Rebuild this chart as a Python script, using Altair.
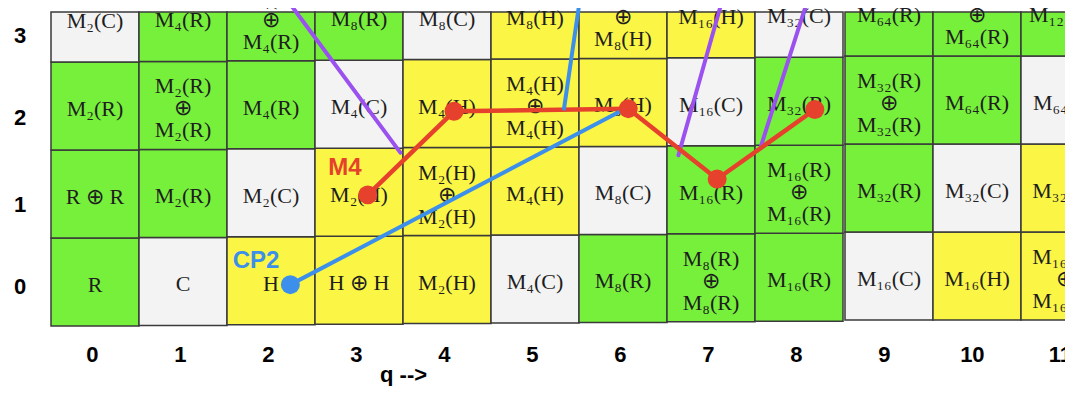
import altair as alt
import pandas as pd

# ------------------------------------------------------------------ data
q_tick_labels = ["0", "1", "2", "3", "4", "5", "6", "7", "8", "9", "10", "11"]
p_tick_labels = ["0", "1", "2", "3"]

row_p0 = ["R", "C", "H", "H⊕H", "M₂(H)", "M₄(C)", "M₈(R)", "M₈(R)⊕M₈(R)",
          "M₁₆(R)", "M₁₆(C)", "M₁₆(H)", "M₁₆(H)⊕M₁₆(H)"]
row_p1 = ["R⊕R", "M₂(R)", "M₂(C)", "M₂(H)", "M₂(H)⊕M₂(H)", "M₄(H)", "M₈(C)",
          "M₁₆(R)", "M₁₆(R)⊕M₁₆(R)", "M₃₂(R)", "M₃₂(C)", "M₃₂(H)"]
row_p2 = ["M₂(R)", "M₂(R)⊕M₂(R)", "M₄(R)", "M₄(C)", "M₄(H)", "M₄(H)⊕M₄(H)",
          "M₈(H)", "M₁₆(C)", "M₃₂(R)", "M₃₂(R)⊕M₃₂(R)", "M₆₄(R)", "M₆₄(C)"]
row_p3 = ["M₂(C)", "M₄(R)", "M₄(R)⊕M₄(R)", "M₈(R)", "M₈(C)", "M₈(H)",
          "M₈(H)⊕M₈(H)", "M₁₆(H)", "M₃₂(C)", "M₆₄(R)", "M₆₄(R)⊕M₆₄(R)", "M₁₂₈(R)"]

# path overlays, in (q, p) table units
red_q = [3.60, 4.58, 6.56, 7.57, 8.68]
red_p = [1.49, 2.44, 2.47, 1.67, 2.46]
blue_q = [2.72, 6.47]
blue_p = [0.47, 2.44]
blue2_q = [5.83, 6.01]
blue2_p = [2.47, 3.71]
purple1_q = [3.97, 2.68]
purple1_p = [1.97, 3.71]
purple2_q = [7.13, 7.63]
purple2_p = [1.94, 3.71]
purple3_q = [8.06, 8.60]
purple3_p = [2.02, 3.71]

label_text = ["M4", "CP2"]
label_q = [3.34, 2.33]
label_p = [1.80, 0.74]

# ------------------------------------------------------------------ layout / style
X0_PX, CW, Y0_PX, RH = 51.0, 88.0, 326.0, 88.0
PLOT_W, PLOT_H = 1057, 378
x_dom = [(8 - X0_PX) / CW, (8 + PLOT_W - X0_PX) / CW]
y_dom = [(Y0_PX - 8 - PLOT_H) / RH, (Y0_PX - 8) / RH]
TOP = (Y0_PX - 12) / RH
LINE_H = 22

GREEN, YELLOW, WHITE = "#77F03C", "#FBF645", "#F3F3F3"
RED, BLUE, PURPLE = "#E6412C", "#3C8FEA", "#9B51F0"

xs = alt.Scale(domain=x_dom, nice=False, zero=False)
ys = alt.Scale(domain=y_dom, nice=False, zero=False)

recs = []
for p, row in enumerate([row_p0, row_p1, row_p2, row_p3]):
    for q, name in enumerate(row):
        if q >= 9:
            dxp, dyp = 2.0, -6.0
        else:
            dxp, dyp = 0.0, -0.6 * q
        x1 = q + dxp / CW
        x2 = q + 1 + dxp / CW
        y1 = p - dyp / RH
        y2 = (p + 1 - dyp / RH) if p < 3 else TOP
        field = next(c for c in name if c in "RCH")
        shift = 0.0
        if "⊕" in name:
            a, b = name.split("⊕")
            if a.startswith("M"):
                lab = f"{a}\n⊕\n{b}"
                shift = LINE_H
            else:
                lab = f"{a} ⊕ {b}"
        else:
            lab = name
        recs.append(dict(x1=x1, x2=x2, y1=y1, y2=y2, field=field, label=lab,
                         tx=q + 0.5 + dxp / CW,
                         ty=p + 0.5 - (dyp + 3 - shift) / RH))
cells = pd.DataFrame(recs)


def X(f):
    return alt.X(f, type="quantitative", scale=xs, axis=None)


def Y(f):
    return alt.Y(f, type="quantitative", scale=ys, axis=None)


rects = alt.Chart(cells).mark_rect(stroke="#3a3a3a", strokeWidth=1.5, clip=True).encode(
    x=X("x1"), x2="x2", y=Y("y1"), y2="y2",
    color=alt.Color("field:N", scale=alt.Scale(domain=["R", "C", "H"],
                                               range=[GREEN, WHITE, YELLOW]), legend=None),
)

texts = alt.Chart(cells).mark_text(
    font="Liberation Serif", fontSize=22, lineBreak="\n", lineHeight=LINE_H,
    baseline="middle", align="center", color="#1e1e1e", clip=True,
).encode(x=X("tx"), y=Y("ty"), text="label:N")


def path_df(qs, ps, name):
    return pd.DataFrame({"q": qs, "p": ps, "o": list(range(len(qs))), "s": name})


def line_layer(df, color, width):
    return alt.Chart(df).mark_line(color=color, strokeWidth=width, clip=True,
                                   strokeCap="round").encode(
        x=X("q"), y=Y("p"), order="o:Q", detail="s:N")


purple_df = pd.concat([path_df(purple1_q, purple1_p, "a"),
                       path_df(purple2_q, purple2_p, "b"),
                       path_df(purple3_q, purple3_p, "c")])
blue_df = pd.concat([path_df(blue_q, blue_p, "a"), path_df(blue2_q, blue2_p, "b")])
red_df = path_df(red_q, red_p, "r")

purple = line_layer(purple_df, PURPLE, 4)
red_line = line_layer(red_df, RED, 4.5)
blue_lines = line_layer(blue_df, BLUE, 4)

red_pts = alt.Chart(red_df).mark_circle(color=RED, size=360, opacity=1).encode(
    x=X("q"), y=Y("p"))
blue_pt = alt.Chart(path_df(blue_q[:1], blue_p[:1], "a")).mark_circle(
    color=BLUE, size=360, opacity=1).encode(x=X("q"), y=Y("p"))

lab_df = pd.DataFrame({"t": label_text, "q": label_q, "p": label_p,
                       "c": [RED, BLUE]})
labels = alt.Chart(lab_df).mark_text(font="Liberation Sans", fontSize=24,
                                     fontWeight="bold", align="center",
                                     baseline="middle").encode(
    x=X("q"), y=Y("p"), text="t:N", color=alt.Color("c:N", scale=None))

# tick labels
xt = pd.DataFrame({"t": q_tick_labels,
                   "q": [i + 0.5 - 0.03 for i in range(len(q_tick_labels))],
                   "p": [(Y0_PX - 355) / RH] * len(q_tick_labels)})
x_ticks = alt.Chart(xt).mark_text(font="Liberation Sans Narrow, Liberation Sans",
                                  fontSize=22, fontWeight="bold", color="#000",
                                  baseline="middle").encode(
    x=X("q"), y=Y("p"), text="t:N")

y_px = [287, 205, 118, 36]
yt = pd.DataFrame({"t": p_tick_labels, "q": [(20 - X0_PX) / CW] * 4,
                   "p": [(Y0_PX - v) / RH for v in y_px]})
y_ticks = alt.Chart(yt).mark_text(font="Liberation Sans Narrow, Liberation Sans",
                                  fontSize=22, fontWeight="bold", color="#000",
                                  baseline="middle").encode(
    x=X("q"), y=Y("p"), text="t:N")

qlab = alt.Chart(pd.DataFrame({"t": ["q   -->"], "q": [(380 - X0_PX) / CW],
                               "p": [(Y0_PX - 375) / RH]})).mark_text(
    font="Liberation Sans Narrow, Liberation Sans", fontSize=22, fontWeight="bold",
    color="#000", align="left", baseline="middle").encode(
    x=X("q"), y=Y("p"), text="t:N")

chart = alt.layer(rects, texts, purple, red_line, blue_lines, red_pts, blue_pt,
                  labels, x_ticks, y_ticks, qlab).properties(
    width=PLOT_W, height=PLOT_H, padding=0,
    autosize=alt.AutoSizeParams(type="none"),
    background="white",
).configure_view(stroke=None)

chart.save("out.html", embed_options={"renderer": "svg", "actions": False})
